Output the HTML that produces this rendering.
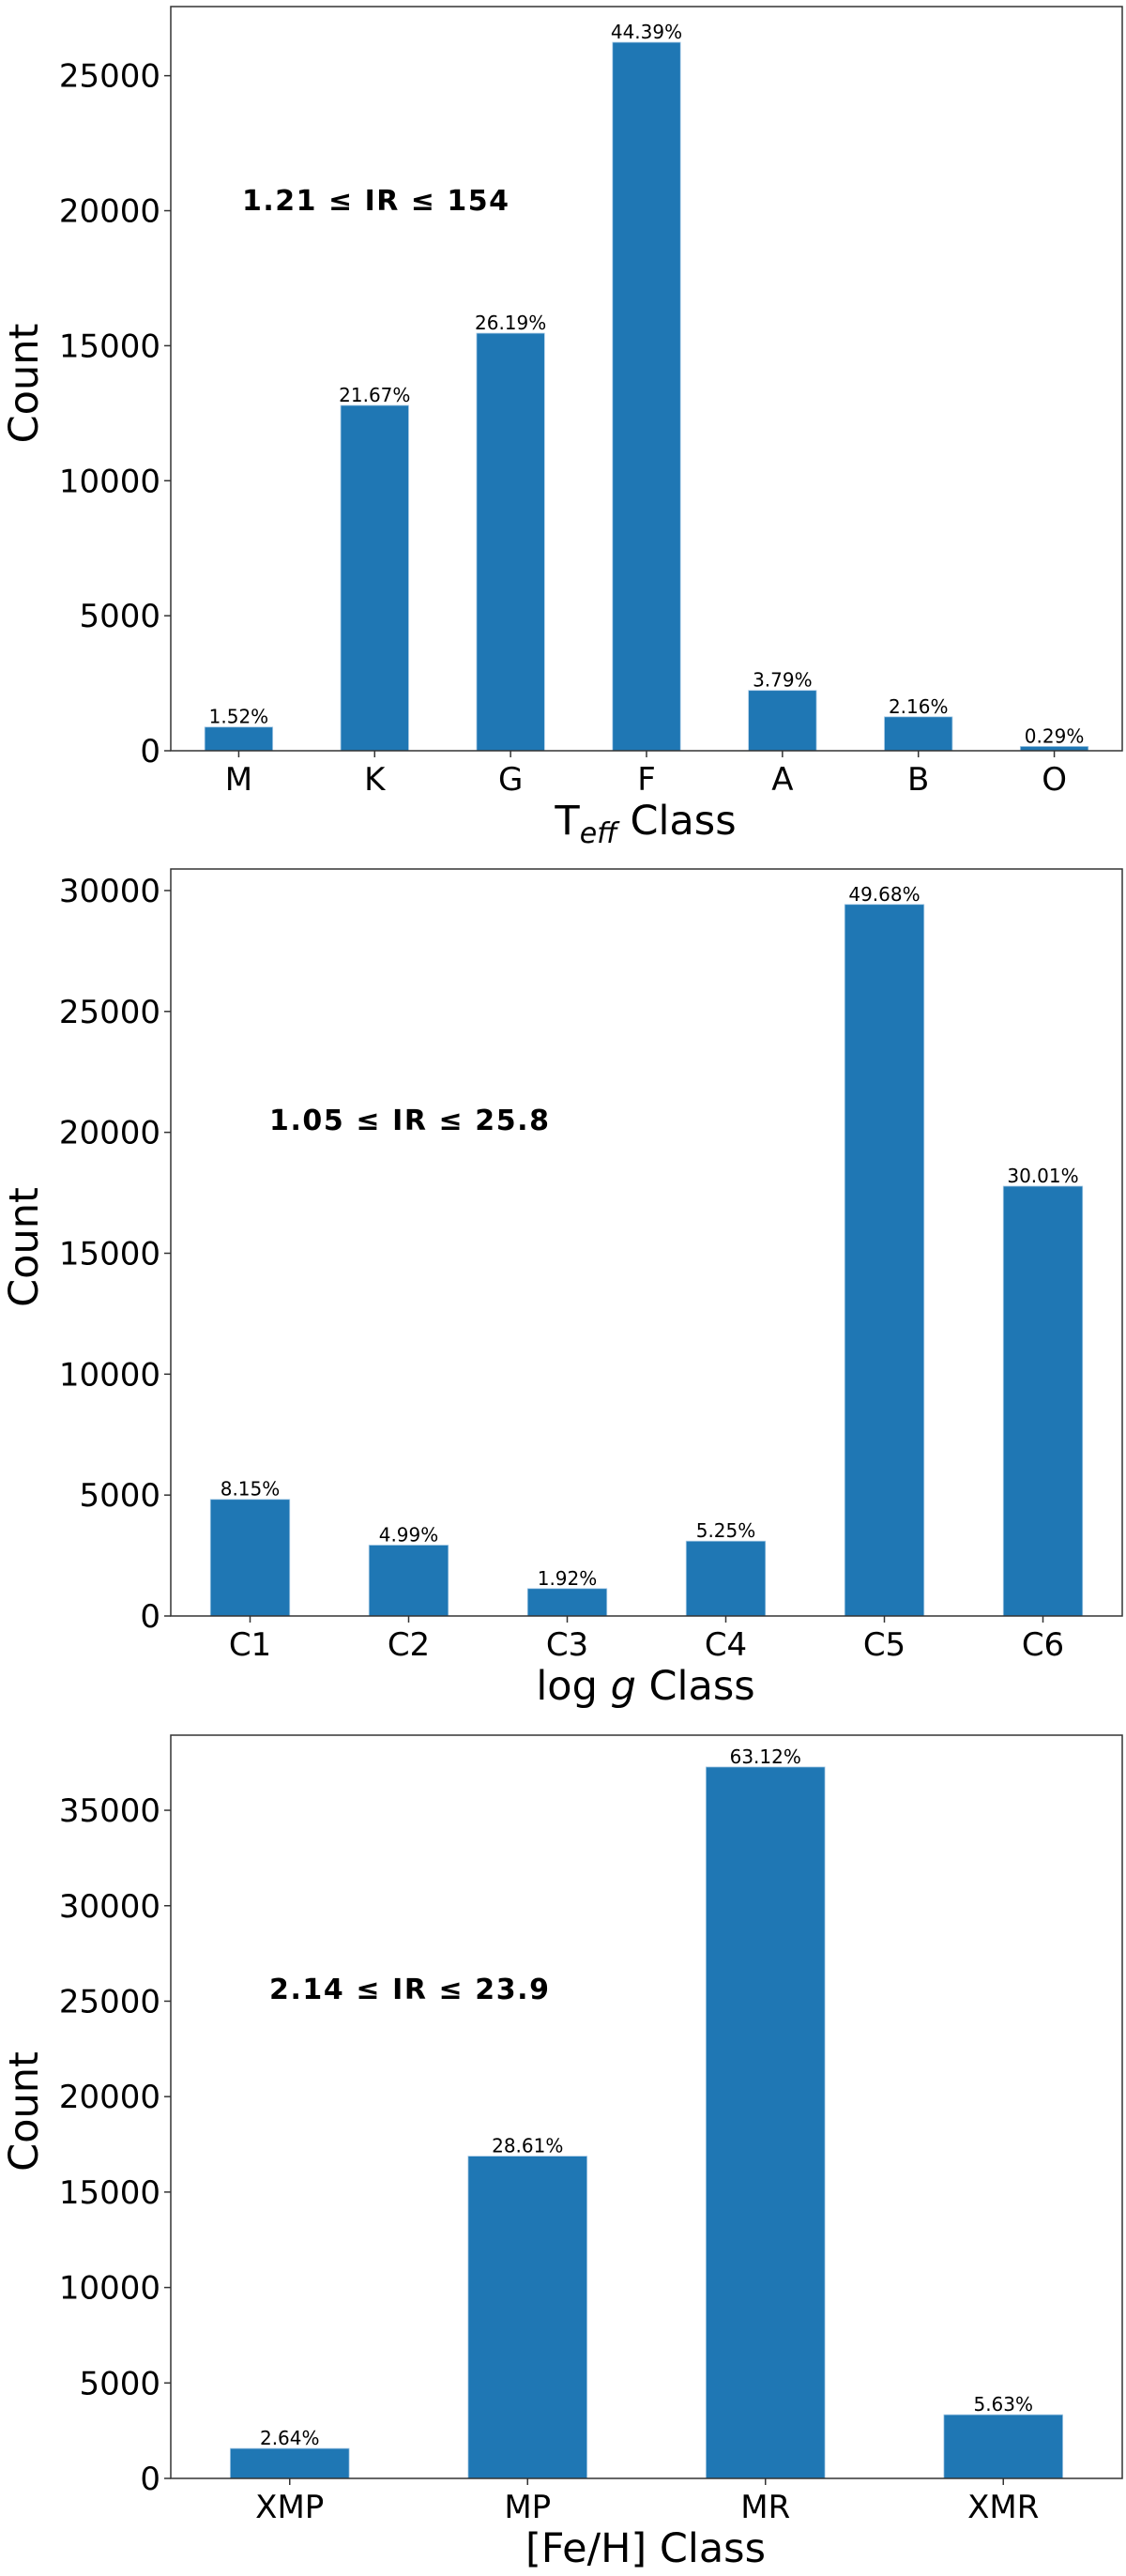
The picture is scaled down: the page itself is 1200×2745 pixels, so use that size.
<!DOCTYPE html>
<html><head><meta charset="utf-8"><style>
html,body{margin:0;padding:0;background:#fff;}
svg text{font-family:"DejaVu Sans","Liberation Sans",sans-serif;fill:#000;}
</style></head><body>
<svg id="fig" xmlns="http://www.w3.org/2000/svg" width="1200" height="2740" viewBox="0 0 1200 2740"></svg>
<script>
// Panel 1: Teff class
const tCats = ["M","K","G","F","A","B","O"];
const tCounts = [878, 12790, 15463, 26237, 2235, 1257, 160];
const tPct = ["1.52%","21.67%","26.19%","44.39%","3.79%","2.16%","0.29%"];
const tTicks = [0, 5000, 10000, 15000, 20000, 25000];
// Panel 2: log g class
const gCats = ["C1","C2","C3","C4","C5","C6"];
const gCounts = [4822, 2931, 1134, 3096, 29426, 17774];
const gPct = ["8.15%","4.99%","1.92%","5.25%","49.68%","30.01%"];
const gTicks = [0, 5000, 10000, 15000, 20000, 25000, 30000];
// Panel 3: [Fe/H] class
const fCats = ["XMP","MP","MR","XMR"];
const fCounts = [1570, 16882, 37268, 3337];
const fPct = ["2.64%","28.61%","63.12%","5.63%"];
const fTicks = [0, 5000, 10000, 15000, 20000, 25000, 30000, 35000];

const NS = "http://www.w3.org/2000/svg";
const svg = document.getElementById("fig");
function mk(tag, attrs, parent, txt){
  const e = document.createElementNS(NS, tag);
  for (const k in attrs) e.setAttribute(k, attrs[k]);
  if (txt !== undefined) e.textContent = txt;
  (parent || svg).appendChild(e);
  return e;
}

function drawPanel(p){
  const g = mk("g", {});
  
  
  const L = 182, R = 1196;
  const n = p.cats.length;
  const step = (R - L) / n;
  const xs = i => L + step * (i + 0.5);
  const ys = v => p.zero - (p.zero - p.top) * v / p.ymax;
  p.counts.forEach((v, i) => {
    const bw = step * 0.5;
    const r = mk("rect", {x: xs(i) - bw/2, y: ys(v), width: bw, height: p.zero - ys(v), fill: "#1f77b4", stroke: "#a9cbe6", "stroke-width": 0.8}, g);
    
    
    const t = mk("text", {x: xs(i), y: ys(v) - 4, "font-size": 20, "text-anchor": "middle"}, g, p.pct[i]);
    
    
    mk("line", {x1: xs(i), x2: xs(i), y1: p.zero, y2: p.zero + 7, stroke: "#333", "stroke-width": 1.5}, g);
    const xl = mk("text", {x: xs(i), y: p.zero + 42, "font-size": 34, "text-anchor": "middle"}, g, p.cats[i]);
    
    
  });
  p.ticks.forEach(v => {
    mk("line", {x1: L - 7, x2: L, y1: ys(v), y2: ys(v), stroke: "#333", "stroke-width": 1.5}, g);
    const yl = mk("text", {x: L - 11, y: ys(v) + 12, "font-size": 34, "text-anchor": "end"}, g, String(v));
    
    
  });
  const fr = mk("rect", {x: L, y: p.top, width: R - L, height: p.zero - p.top, fill: "none", stroke: "#333", "stroke-width": 1.5}, g);
  
  
  const cy = (p.top + p.zero) / 2 + 5;
  const yt = mk("text", {x: 0, y: 0, "font-size": 43, "text-anchor": "middle", transform: "translate(40," + cy + ") rotate(-90)"}, g, "Count");
  
  
  const xt = mk("text", {x: 688, y: p.zero + 89, "font-size": 43, "text-anchor": "middle"}, g);
  
  
  p.xlabel(xt);
  const an = mk("text", {x: p.annX, y: p.annY, "font-size": 30, "font-weight": "bold", textLength: p.annW, lengthAdjust: "spacing"}, g, p.ann);
  
  
}

drawPanel({name: "teff-class-chart", cats: tCats, counts: tCounts, pct: tPct, ticks: tTicks,
  top: 7, zero: 800, ymax: 27560, ann: "1.21 \u2264 IR \u2264 154", annX: 258, annY: 224, annW: 284,
  xlabel: t => { mk("tspan", {}, t, "T"); mk("tspan", {"font-style": "italic", "font-size": 30, dy: 9}, t, "eff"); mk("tspan", {dy: -9}, t, " Class"); }});
drawPanel({name: "logg-class-chart", cats: gCats, counts: gCounts, pct: gPct, ticks: gTicks,
  top: 926, zero: 1722, ymax: 30891, ann: "1.05 \u2264 IR \u2264 25.8", annX: 287, annY: 1204, annW: 298,
  xlabel: t => { mk("tspan", {}, t, "log "); mk("tspan", {"font-style": "italic"}, t, "g"); mk("tspan", {}, t, " Class"); }});
drawPanel({name: "feh-class-chart", cats: fCats, counts: fCounts, pct: fPct, ticks: fTicks,
  top: 1849, zero: 2641, ymax: 38935, ann: "2.14 \u2264 IR \u2264 23.9", annX: 287, annY: 2130, annW: 298,
  xlabel: t => { t.textContent = "[Fe/H] Class"; }});
</script>
</body></html>
